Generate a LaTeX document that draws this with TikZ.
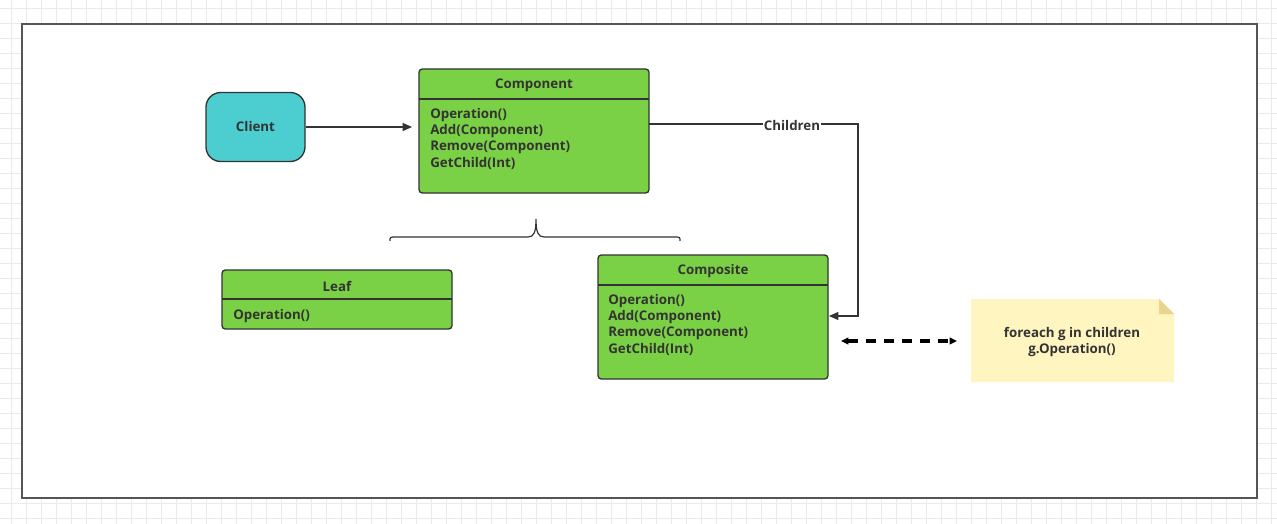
\documentclass[tikz,border=0pt]{standalone}
\usepackage{fontspec}
\setmainfont{Open Sans}
\usetikzlibrary{arrows.meta}
\definecolor{gridc}{RGB}{234,234,234}
\definecolor{framec}{RGB}{85,85,85}
\definecolor{edgec}{RGB}{51,51,51}
\definecolor{txtc}{RGB}{51,51,51}
\definecolor{greenc}{RGB}{123,209,69}
\definecolor{cyanc}{RGB}{76,205,208}
\definecolor{notec}{RGB}{255,245,192}
\definecolor{foldc}{RGB}{232,212,142}
\tikzset{
  lbl/.style={font=\fontsize{10}{12}\selectfont\bfseries, text=txtc, inner sep=0pt},
  umlbox/.style={draw=edgec, line width=1pt, fill=greenc, rounded corners=2.5pt},
  conn/.style={draw=edgec, line width=0.9pt},
  tipA/.style={-{Triangle[length=7pt,width=6pt]}},
}
\begin{document}
\begin{tikzpicture}[x=0.75pt,y=-0.75pt]
\useasboundingbox (0,0) rectangle (1277,524);
% grid background
\foreach \gx in {11,26,...,1277} \draw[gridc, line width=0.6pt] (\gx,0) -- (\gx,524);
\foreach \gy in {8,23,...,524} \draw[gridc, line width=0.6pt] (0,\gy) -- (1277,\gy);
% frame
\draw[framec, line width=1.5pt, fill=white] (22,24) rectangle (1257,498);

% Client
\node[draw=edgec, line width=1pt, fill=cyanc, rounded corners=11pt, minimum width=74.25pt, minimum height=51.75pt, lbl] (client) at (255.5,127) {Client};

% Component
\path[umlbox] (419,69) rectangle (649,193);
\draw[edgec, line width=1pt] (419,99) -- (649,99);
\node[lbl] (compT) at (534,85.5) {Component};
\node[lbl, anchor=west] (c1) at (430,115.5) {Operation()};
\node[lbl, anchor=west] (c2) at (430,131.5) {Add(Component)};
\node[lbl, anchor=west] (c3) at (430,147.5) {Remove(Component)};
\node[lbl, anchor=west] (c4) at (430,163.5) {GetChild(Int)};
\coordinate (compIn) at (412,127);
\coordinate (compOut) at (649,124);

% Leaf
\path[umlbox] (222,270) rectangle (452,329);
\draw[edgec, line width=1pt] (222,299) -- (452,299);
\node[lbl] (leafT) at (337,286.5) {Leaf};
\node[lbl, anchor=west] (l1) at (233,316.5) {Operation()};

% Composite
\path[umlbox] (598,255) rectangle (828,379);
\draw[edgec, line width=1pt] (598,285) -- (828,285);
\node[lbl] (compoT) at (713,271.5) {Composite};
\node[lbl, anchor=west] (p1) at (608,301.5) {Operation()};
\node[lbl, anchor=west] (p2) at (608,317.5) {Add(Component)};
\node[lbl, anchor=west] (p3) at (608,333.5) {Remove(Component)};
\node[lbl, anchor=west] (p4) at (608,349.5) {GetChild(Int)};
\coordinate (compoIn) at (829,316);

% brace
\draw[edgec, line width=0.9pt] (390,241) .. controls (390,237) .. (396,237) -- (528,237)
  .. controls (534,237) and (536,232) .. (536,219)
  .. controls (536,232) and (538,237) .. (544,237) -- (674,237)
  .. controls (680,237) .. (680,241);

% Client -> Component
\draw[conn, tipA] (client.east) -- (compIn);

% Children connector
\coordinate (bend1) at (858,124);
\coordinate (bend2) at (858,316);
\draw[conn, tipA] (compOut) -- (bend1) -- (bend2) -- (compoIn);
\node[lbl, fill=white, inner sep=1pt] (childlbl) at (792,126) {Children};

% Note
\path[fill=notec] (971,299) -- (1159,299) -- (1174,314) -- (1174,382) -- (971,382) -- cycle;
\path[fill=foldc] (1159,299) -- (1174,314) -- (1159,314) -- cycle;
\node[lbl, align=center] (note) at (1072,342) {foreach g in children\\g.Operation()};

% dashed double arrow
\coordinate (dL) at (841,341);
\coordinate (dR) at (957,341);
\draw[black, line width=2.6pt, dash pattern=on 7.5pt off 6pt, {Triangle[length=5.5pt,width=5pt]}-{Triangle[length=5.5pt,width=5pt]}] (dL) -- (dR);
\end{tikzpicture}
\end{document}
